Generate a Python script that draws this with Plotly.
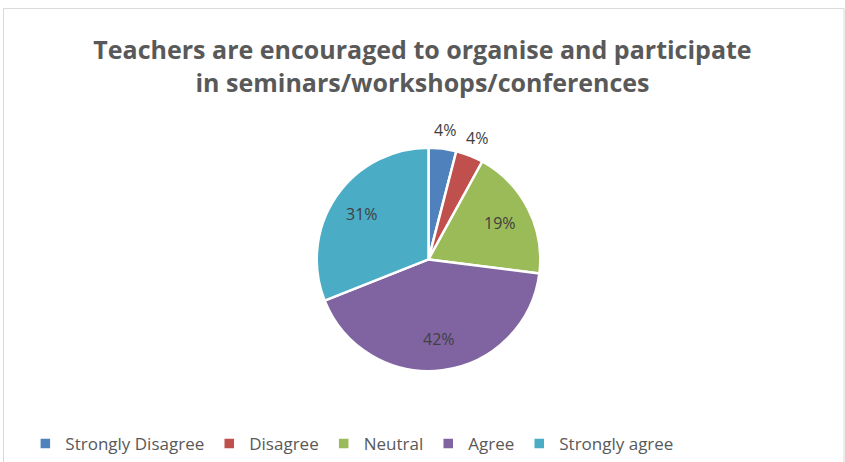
import math
import plotly.graph_objects as go

# Survey responses
categories = ["Strongly Disagree", "Disagree", "Neutral", "Agree", "Strongly agree"]
values = [4, 4, 19, 42, 31]
colors = ["#4F81BD", "#C0504D", "#9BBB59", "#8064A2", "#4BACC6"]
label_outside = [True, True, False, False, False]

title_text = "Teachers are encouraged to organise and participate<br>in seminars/workshops/conferences"

W, H = 845, 462
cx, cy, r = 428.5, 260, 112

fig = go.Figure(
    go.Pie(
        labels=categories,
        values=values,
        sort=False,
        direction="clockwise",
        rotation=0,
        marker=dict(colors=colors, line=dict(color="white", width=2.5)),
        textinfo="none",
        domain=dict(x=[(cx - r) / W, (cx + r) / W], y=[1 - (cy + r) / H, 1 - (cy - r) / H]),
        hoverinfo="label+percent",
    )
)

# Percentage labels placed at each slice's mid-angle (clockwise from 12 o'clock)
total = sum(values)
annotations = []
cum = 0
for v, outside in zip(values, label_outside):
    mid = (cum + v / 2) / total * 2 * math.pi
    cum += v
    d = r * (1.17 if outside else 0.72)
    px = cx + d * math.sin(mid)
    py = cy - d * math.cos(mid)
    annotations.append(
        dict(
            x=px / W,
            y=1 - py / H,
            xref="paper",
            yref="paper",
            text=f"{round(100 * v / total)}%",
            showarrow=False,
            xanchor="center",
            yanchor="middle",
            font=dict(family="Open Sans", size=16, color="#404040"),
        )
    )

fig.update_layout(
    width=W,
    height=H,
    margin=dict(l=0, r=0, t=0, b=0),
    paper_bgcolor="white",
    title=dict(
        text=title_text,
        x=0.5,
        xanchor="center",
        y=1 - 59 / H,
        yanchor="middle",
        font=dict(family="Open Sans", size=25, color="#595959", weight="bold"),
    ),
    showlegend=True,
    legend=dict(
        orientation="h",
        x=0.03,
        xanchor="left",
        y=1 - 445 / H,
        yanchor="middle",
        font=dict(family="Open Sans", size=17, color="#595959"),
        itemwidth=30,
        traceorder="normal",
    ),
    annotations=annotations,
    shapes=[
        dict(
            type="rect",
            xref="paper",
            yref="paper",
            x0=3.5 / W,
            x1=844 / W,
            y0=-0.05,
            y1=1 - 8.5 / H,
            line=dict(color="#D9D9D9", width=1),
            layer="below",
        )
    ],
)

fig.write_html("out.html")
